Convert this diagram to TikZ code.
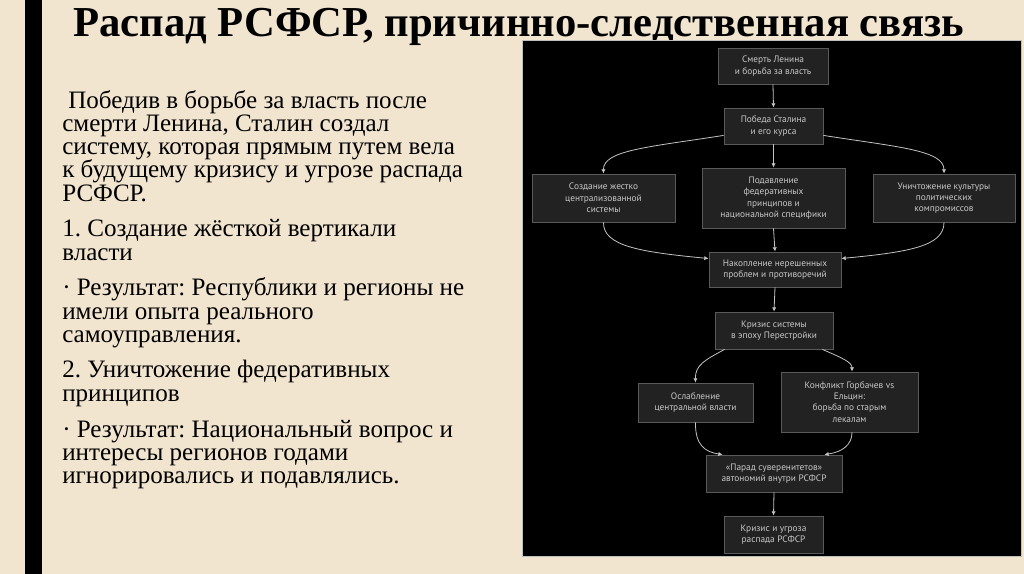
\documentclass[tikz,border=0pt]{standalone}
\usepackage{fontspec}
\setmainfont{Liberation Serif}
\newfontfamily\diafont{PT Sans}
\usetikzlibrary{arrows.meta,calc}
\definecolor{bgbeige}{HTML}{F2E5D0}
\definecolor{boxfill}{HTML}{222222}
\definecolor{boxline}{HTML}{5A5A5A}
\definecolor{boxtext}{HTML}{C8C8C8}
\definecolor{arrowcol}{HTML}{C4C4C4}
\frenchspacing
\begin{document}
\begin{tikzpicture}[x=0.75pt,y=-0.75pt,
  bx/.style={draw=boxline,fill=boxfill,line width=0.6pt,inner sep=0pt,align=center,
    text=boxtext,font=\diafont\fontsize{7pt}{8.5pt}\selectfont},
  conn/.style={draw=arrowcol,line width=0.6pt,-{Latex[length=3.2pt,width=3.2pt]}},
  bodyline/.style={anchor=base west,inner sep=0pt,text height=12.5pt,text depth=3pt,
    font=\fontsize{18.8pt}{18.8pt}\selectfont,text=black}]
\useasboundingbox (0,0) rectangle (1024,574);
\fill[bgbeige] (0,0) rectangle (1024,574);
\fill[black] (25,0) rectangle (42,574);
% title
\node[anchor=base west,inner sep=0pt,font=\bfseries\fontsize{32pt}{32pt}\selectfont] (title) at (73,37) {Распад РСФСР, причинно-следственная связь};
% body text
\node[bodyline] (l1) at (68,109) {Победив в борьбе за власть после};
\node[bodyline] (l2) at (62,132) {смерти Ленина, Сталин создал};
\node[bodyline] (l3) at (62,155) {систему, которая прямым путем вела};
\node[bodyline] (l4) at (62,178) {к будущему кризису и угрозе распада};
\node[bodyline] (l5) at (62,201) {РСФСР.};
\node[bodyline] (l6) at (62,236) {1. Создание жёсткой вертикали};
\node[bodyline] (l7) at (62,260) {власти};
\node[bodyline] (l8) at (62,295) {· Результат: Республики и регионы не};
\node[bodyline] (l9) at (62,319) {имели опыта реального};
\node[bodyline] (l10) at (62,342) {самоуправления.};
\node[bodyline] (l11) at (62,377) {2. Уничтожение федеративных};
\node[bodyline] (l12) at (62,401) {принципов};
\node[bodyline] (l13) at (62,437) {· Результат: Национальный вопрос и};
\node[bodyline] (l14) at (62,460) {интересы регионов годами};
\node[bodyline] (l15) at (62,483) {игнорировались и подавлялись.};
% panel
\fill[black] (522,40) rectangle (1021,556);
\draw[white!75!black,line width=0.4pt] (522,40) rectangle (1021,556);
% boxes
\node[bx,minimum width=82.5pt,minimum height=27pt] (n1) at (773,66) {Смерть Ленина\\и борьба за власть};
\node[bx,minimum width=74.25pt,minimum height=27pt] (n2) at (773.5,126) {Победа Сталина\\и его курса};
\node[bx,minimum width=107.25pt,minimum height=36pt] (n3) at (603.5,198) {Создание жестко\\централизованной\\системы};
\node[bx,minimum width=107.25pt,minimum height=45pt] (n4) at (773.5,198) {Подавление\\федеративных\\принципов и\\национальной специфики};
\node[bx,minimum width=106.5pt,minimum height=36pt] (n5) at (944,198) {Уничтожение культуры\\политических\\компромиссов};
\node[bx,minimum width=99pt,minimum height=26.25pt] (n6) at (775,269.5) {Накопление нерешенных\\проблем и противоречий};
\node[bx,minimum width=88.5pt,minimum height=27.75pt] (n7) at (774,330.5) {Кризис системы\\в эпоху Перестройки};
\node[bx,minimum width=86.25pt,minimum height=29.25pt] (n8) at (695.5,402.5) {Ослабление\\центральной власти};
\node[bx,minimum width=102.75pt,minimum height=45pt] (n9) at (849.5,402) {Конфликт Горбачев vs\\Ельцин:\\борьба по старым\\лекалам};
\node[bx,minimum width=102pt,minimum height=27.75pt] (n10) at (774,473.5) {«Парад суверенитетов»\\автономий внутри РСФСР};
\node[bx,minimum width=74.25pt,minimum height=27.75pt] (n11) at (773.5,534.5) {Кризис и угроза\\распада РСФСР};
% connectors
\draw[conn] (n1.south) -- (n2.north);
\draw[conn] ($(n2.south west)+(0,-9)$) .. controls (650,147) and (603,150) .. (n3.north);
\draw[conn] ($(n2.south east)+(0,-9)$) .. controls (897,147) and (944,150) .. (n5.north);
\draw[conn] (n2.south) -- (n4.north);
\draw[conn] (n3.south) .. controls (603,246) and (640,252) .. ($(n6.west)+(0,-11)$);
\draw[conn] (n5.south) .. controls (944,246) and (910,252) .. ($(n6.east)+(0,-11)$);
\draw[conn] (n4.south) -- (n6.north);
\draw[conn] (n6.south) -- (n7.north);
\draw[conn] ($(n7.south west)+(10,0)$) .. controls (705,360) and (695,365) .. (n8.north);
\draw[conn] ($(n7.south east)+(-11,0)$) .. controls (842,358) and (852,362) .. ($(n9.north)+(2.5,0)$);
\draw[conn] (n8.south) .. controls (695,445) and (705,452) .. ($(n10.north west)+(17,0)$);
\draw[conn] ($(n9.south)+(2.5,0)$) .. controls (852,445) and (842,452) .. ($(n10.north east)+(-18,0)$);
\draw[conn] (n10.south) -- (n11.north);
\end{tikzpicture}
\end{document}
